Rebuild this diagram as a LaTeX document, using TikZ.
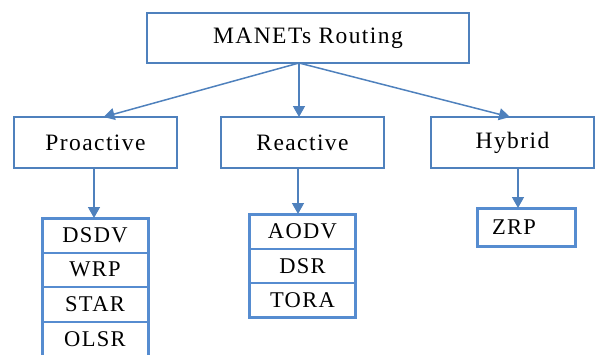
\documentclass[tikz,border=0pt]{standalone}
\usepackage{fontspec}
\setmainfont[LetterSpace=6]{Liberation Serif}
\usetikzlibrary{arrows.meta}
\definecolor{blue1}{RGB}{79, 129, 189}
\definecolor{blue2}{RGB}{86, 140, 208}

\begin{document}
\begin{tikzpicture}[x=1pt, y=-1pt,
  box/.style={draw=blue1, line width=1.2pt, minimum width=163pt, minimum height=51pt,
    inner sep=0pt, outer sep=0pt, font=\fontsize{23.5}{25}\selectfont},
  item/.style={draw=blue2, line width=2pt, minimum width=106pt, minimum height=34.5pt,
    inner sep=0pt, outer sep=0pt, font=\fontsize{22.5}{24}\selectfont},
  link/.style={draw=blue1, line width=1.5pt, -{Triangle[width=12pt,length=11pt]}}]
  \useasboundingbox (0,0) rectangle (595,354);
  \node[box, minimum width=322pt, minimum height=50pt] (root) at (308,38) {MANETs Routing};
  \node[box] (pro) at (95.5,142.5) {Proactive};
  \node[box] (rea) at (302.5,142.5) {Reactive};
  \node[box] (hyb) at (512.5,142.5) {Hybrid};
  % protocol lists
  \node[item] (p1) at (95,235.25) {DSDV};
  \node[item] (p2) at (95,269.75) {WRP};
  \node[item] (p3) at (95,304.25) {STAR};
  \node[item] (p4) at (95,338.75) {OLSR};
  \node[item] (r1) at (302.5,231.25) {AODV};
  \node[item] (r2) at (302.5,265.75) {DSR};
  \node[item] (r3) at (302.5,300.25) {TORA};
  \node[item, minimum width=98pt, minimum height=38pt, text width=68pt, align=left,
    inner xsep=15pt] (z1) at (526,227) {ZRP};
  \draw[blue2, line width=3pt] (p1.north west) rectangle (p4.south east);
  \draw[blue2, line width=3pt] (r1.north west) rectangle (r3.south east);
  \draw[blue2, line width=3pt] (z1.north west) rectangle (z1.south east);
  % arrows
  \draw[link] ([xshift=-9pt]root.south) -- ([xshift=8pt]pro.north);
  \draw[link] ([xshift=-9pt]root.south) -- ([xshift=-3.5pt]rea.north);
  \draw[link] ([xshift=-9pt]root.south) -- ([xshift=-2.5pt]hyb.north);
  \foreach \from/\to/\dx in {pro/p1/-1.5, rea/r1/-4.5, hyb/z1/5.5}
    \draw[link] ([xshift=\dx pt]\from.south) -- ([xshift=\dx pt]\from.south |- \to.north);
\end{tikzpicture}
\end{document}
